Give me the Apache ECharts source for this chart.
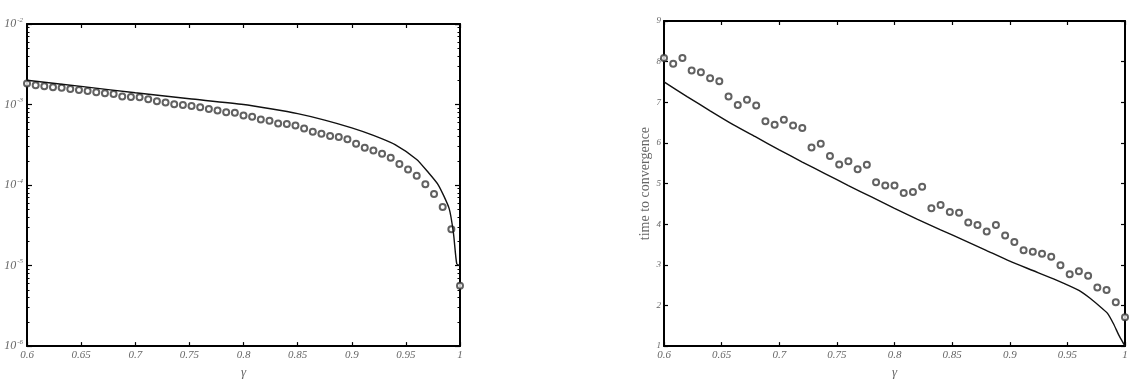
<!DOCTYPE html>
<html>
<head>
<meta charset="utf-8">
<script src="https://cdn.jsdelivr.net/npm/echarts@6/dist/echarts.min.js"></script>
<style>
  html, body { margin: 0; padding: 0; background: #fff; }
  #chart { width: 1137px; height: 384px; }
</style>
</head>
<body>
<div id="chart"></div>
<script>
  // gamma values of the circles (both panels)
  const gammaDots = [0.6, 0.608, 0.616, 0.624, 0.632, 0.64, 0.648, 0.656, 0.664, 0.672,
    0.68, 0.688, 0.696, 0.704, 0.712, 0.72, 0.728, 0.736, 0.744, 0.752,
    0.76, 0.768, 0.776, 0.784, 0.792, 0.8, 0.808, 0.816, 0.824, 0.832,
    0.84, 0.848, 0.856, 0.864, 0.872, 0.88, 0.888, 0.896, 0.904, 0.912,
    0.92, 0.928, 0.936, 0.944, 0.952, 0.96, 0.968, 0.976, 0.984, 0.992, 1.0];

  // left panel (log scale)
  const leftDots = [1.82e-3, 1.73e-3, 1.69e-3, 1.64e-3, 1.61e-3, 1.56e-3, 1.51e-3, 1.47e-3, 1.42e-3, 1.38e-3,
    1.35e-3, 1.26e-3, 1.24e-3, 1.23e-3, 1.16e-3, 1.10e-3, 1.06e-3, 1.01e-3, 9.86e-4, 9.59e-4,
    9.24e-4, 8.81e-4, 8.40e-4, 8.02e-4, 7.93e-4, 7.29e-4, 7.03e-4, 6.51e-4, 6.28e-4, 5.81e-4,
    5.71e-4, 5.49e-4, 5.05e-4, 4.60e-4, 4.35e-4, 4.07e-4, 3.96e-4, 3.70e-4, 3.25e-4, 2.90e-4,
    2.69e-4, 2.45e-4, 2.19e-4, 1.82e-4, 1.56e-4, 1.30e-4, 1.02e-4, 7.76e-5, 5.33e-5, 2.83e-5, 5.6e-6];
  const leftLineG = [0.6, 0.65, 0.7, 0.75, 0.8, 0.825, 0.85, 0.875, 0.9, 0.92, 0.94, 0.96, 0.97, 0.98, 0.99, 0.994, 0.997, 1.0];
  const leftLineV = [2.0e-3, 1.68e-3, 1.40e-3, 1.18e-3, 1.0e-3, 8.85e-4, 7.7e-4, 6.41e-4, 5.13e-4, 4.14e-4, 3.18e-4, 2.08e-4, 1.47e-4, 1.0e-4, 5.1e-5, 2.5e-5, 1.05e-5, 1.0e-5];
  const leftMinorTicks = [2e-6, 3e-6, 4e-6, 5e-6, 6e-6, 7e-6, 8e-6, 9e-6,
    2e-5, 3e-5, 4e-5, 5e-5, 6e-5, 7e-5, 8e-5, 9e-5,
    2e-4, 3e-4, 4e-4, 5e-4, 6e-4, 7e-4, 8e-4, 9e-4,
    2e-3, 3e-3, 4e-3, 5e-3, 6e-3, 7e-3, 8e-3, 9e-3];

  // right panel (time to convergence)
  const rightDots = [8.09, 7.95, 8.09, 7.78, 7.74, 7.59, 7.52, 7.14, 6.93, 7.06,
    6.92, 6.53, 6.45, 6.57, 6.43, 6.37, 5.89, 5.98, 5.68, 5.47,
    5.55, 5.35, 5.46, 5.03, 4.95, 4.95, 4.77, 4.79, 4.92, 4.39,
    4.47, 4.30, 4.28, 4.04, 3.98, 3.82, 3.98, 3.72, 3.56, 3.36,
    3.32, 3.27, 3.20, 2.99, 2.77, 2.84, 2.73, 2.44, 2.38, 2.08, 1.71];
  const rightLineG = [0.6, 0.62, 0.64, 0.66, 0.68, 0.7, 0.72, 0.74, 0.76, 0.78, 0.8, 0.82, 0.84, 0.86, 0.88, 0.9, 0.92, 0.94, 0.96, 0.97, 0.98, 0.985, 0.99, 0.995, 1.0];
  const rightLineV = [7.50, 7.14, 6.79, 6.45, 6.14, 5.83, 5.53, 5.24, 4.95, 4.67, 4.39, 4.12, 3.86, 3.61, 3.35, 3.09, 2.86, 2.63, 2.37, 2.17, 1.93, 1.80, 1.55, 1.25, 1.0];

  const chart = echarts.init(document.getElementById('chart'));

  const serif = 'Liberation Serif';
  const labelColor = '#666';
  const line = { show: true, lineStyle: { color: '#000', width: 2 } };

  function zip(xs, ys) {
    return xs.map((x, i) => [x, ys[i]]);
  }

  // x axes: bottom with labels, top mirror with ticks only
  function gammaAxis(grid, pos) {
    const bottom = pos === 'bottom';
    return {
      type: 'value', gridIndex: grid, position: pos,
      min: 0.6, max: 1, interval: 0.05,
      axisLine: line,
      axisTick: { show: true, inside: true, length: 4, lineStyle: { color: '#000', width: 1.2 } },
      axisLabel: {
        show: bottom, margin: 4, color: labelColor,
        fontFamily: serif, fontStyle: 'italic', fontSize: 11
      },
      splitLine: { show: false },
      name: bottom ? 'γ' : '',
      nameLocation: 'middle', nameGap: 17,
      nameTextStyle: { fontFamily: serif, fontStyle: 'italic', fontSize: 13, color: labelColor }
    };
  }

  function logAxis(pos, minor, labels) {
    return {
      type: 'log', logBase: 10, gridIndex: 0, position: pos,
      min: 1e-6, max: 1e-2,
      axisLine: minor ? { show: false } : line,
      axisTick: minor
        ? { show: true, inside: true, length: 2.5, customValues: leftMinorTicks, lineStyle: { color: '#000', width: 1 } }
        : { show: true, inside: true, length: 5, lineStyle: { color: '#000', width: 1.2 } },
      axisLabel: {
        show: labels, margin: 4,
        formatter: function (v) {
          return '{a|10}{b|' + Math.round(Math.log10(v)) + '}';
        },
        rich: {
          a: { fontFamily: serif, fontStyle: 'italic', fontSize: 12, color: labelColor },
          b: { fontFamily: serif, fontStyle: 'italic', fontSize: 7, color: labelColor, padding: [0, 0, 8, 1] }
        }
      },
      splitLine: { show: false },
      minorSplitLine: { show: false }
    };
  }

  function timeAxis(pos) {
    const left = pos === 'left';
    return {
      type: 'value', gridIndex: 1, position: pos,
      min: 1, max: 9, interval: 1,
      axisLine: line,
      axisTick: { show: true, inside: true, length: 4, lineStyle: { color: '#000', width: 1.2 } },
      axisLabel: {
        show: left, margin: 3, color: labelColor,
        fontFamily: serif, fontStyle: 'italic', fontSize: 9
      },
      splitLine: { show: false },
      name: left ? 'time to convergence' : '',
      nameLocation: 'middle', nameGap: 12,
      nameTextStyle: { fontFamily: serif, fontSize: 14, color: labelColor }
    };
  }

  const dotStyle = { color: '#3a3a3a', borderWidth: 1.2 };

  const option = {
    animation: false,
    backgroundColor: '#fff',
    grid: [
      { left: 27, top: 24, width: 433, height: 326 },
      { left: 664, top: 21, width: 461, height: 329 }
    ],
    xAxis: [
      gammaAxis(0, 'bottom'), gammaAxis(0, 'top'),
      gammaAxis(1, 'bottom'), gammaAxis(1, 'top')
    ],
    yAxis: [
      logAxis('left', false, true), logAxis('right', false, false),
      logAxis('left', true, false), logAxis('right', true, false),
      timeAxis('left'), timeAxis('right')
    ],
    series: [
      {
        type: 'line', xAxisIndex: 0, yAxisIndex: 0,
        data: zip(leftLineG, leftLineV),
        showSymbol: false, smooth: 0.2,
        lineStyle: { color: '#111', width: 1.4 }
      },
      {
        type: 'scatter', xAxisIndex: 0, yAxisIndex: 0,
        data: zip(gammaDots, leftDots),
        symbol: 'emptyCircle', symbolSize: 6, clip: false,
        itemStyle: dotStyle
      },
      {
        type: 'line', xAxisIndex: 2, yAxisIndex: 4,
        data: zip(rightLineG, rightLineV),
        showSymbol: false, smooth: 0.2,
        lineStyle: { color: '#111', width: 1.4 }
      },
      {
        type: 'scatter', xAxisIndex: 2, yAxisIndex: 4,
        data: zip(gammaDots, rightDots),
        symbol: 'emptyCircle', symbolSize: 6, clip: false,
        itemStyle: dotStyle
      }
    ]
  };

  chart.setOption(option);
</script>
</body>
</html>
